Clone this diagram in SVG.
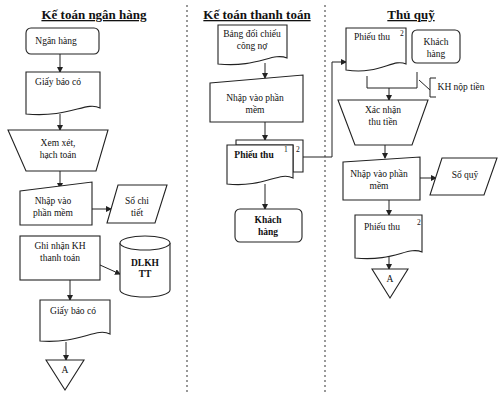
<svg xmlns="http://www.w3.org/2000/svg" width="499" height="395" viewBox="0 0 499 395">
<defs>
<marker id="ah" markerWidth="6" markerHeight="6" refX="5" refY="3" orient="auto" markerUnits="userSpaceOnUse">
<path d="M0,0 L6,3 L0,6 Z" fill="#222"/>
</marker>
<style>
.s{fill:#fff;stroke:#222;stroke-width:1.1}
.t{font-family:"Liberation Serif","DejaVu Serif",serif;font-size:9.5px;fill:#111;text-anchor:middle}
.h{font-family:"Liberation Serif","DejaVu Serif",serif;font-size:13px;font-weight:bold;fill:#111;text-anchor:middle;text-decoration:underline}
.c{fill:none;stroke:#222;stroke-width:1}
.a{fill:none;stroke:#222;stroke-width:1;marker-end:url(#ah)}
.d{fill:none;stroke:#555;stroke-width:1.2;stroke-dasharray:2,3}
.sup{font-family:"Liberation Serif","DejaVu Serif",serif;font-size:7.5px;fill:#111}
</style>
</defs>
<rect width="499" height="395" fill="#fff"/>
<g id="dividers">
<line class="d" x1="187" y1="5" x2="187" y2="395"/>
<line class="d" x1="325" y1="5" x2="325" y2="395"/>
</g>
<g id="titles">
<text class="h" x="94" y="19">Kế toán ngân hàng</text>
<text class="h" x="257" y="19">Kế toán thanh toán</text>
<text class="h" x="411" y="19">Thủ quỹ</text>
</g>
<g id="connectors">
<line class="a" x1="60" y1="54" x2="60" y2="72"/>
<line class="a" x1="60" y1="114" x2="60" y2="130"/>
<line class="a" x1="60" y1="171" x2="60" y2="188"/>
<line class="a" x1="92" y1="209" x2="111" y2="209"/>
<line class="a" x1="100" y1="265" x2="120" y2="274"/>
<line class="a" x1="70" y1="280" x2="70" y2="300"/>
<line class="a" x1="66" y1="342" x2="66" y2="360"/>
<line class="a" x1="265" y1="63" x2="265" y2="78"/>
<line class="a" x1="265" y1="122" x2="265" y2="140"/>
<line class="a" x1="265" y1="184" x2="265" y2="209"/>
<polyline class="a" points="303,157 332,157 332,62 346,62"/>
<polyline class="c" points="367,76 367,88 417,88 417,72"/>
<line class="a" x1="389" y1="88" x2="389" y2="100"/>
<line class="a" x1="385" y1="145" x2="385" y2="158"/>
<line class="a" x1="420" y1="178" x2="436" y2="178"/>
<line class="a" x1="389" y1="200" x2="389" y2="215"/>
<line class="a" x1="389" y1="257" x2="389" y2="269"/>
</g>
<g id="n_nganhang">
<rect class="s" x="26" y="28" width="73" height="26" rx="5"/>
<text class="t" x="56" y="44">Ngân hàng</text>
</g>
<g id="n_giaybaoco1">
<path class="s" d="M26,72 H100 V108 C86,101 70,118 26,114 Z"/>
<text class="t" x="58" y="85">Giấy báo có</text>
</g>
<g id="n_xemxet">
<path class="s" d="M8,130 H108 L96,171 H26 Z"/>
<text class="t" x="58" y="146">Xem xét,</text>
<text class="t" x="58" y="158">hạch toán</text>
</g>
<g id="n_nhap1">
<path class="s" d="M20,191 L92,182 V225 H20 Z"/>
<text class="t" x="53" y="204">Nhập vào</text>
<text class="t" x="53" y="216">phần mềm</text>
</g>
<g id="n_sochitiet">
<path class="s" d="M118,185 H167 L155,223 H107 Z"/>
<text class="t" x="137" y="204">Sổ chi</text>
<text class="t" x="137" y="216">tiết</text>
</g>
<g id="n_ghinhan">
<rect class="s" x="20" y="236" width="80" height="44"/>
<text class="t" x="60" y="249">Ghi nhận KH</text>
<text class="t" x="60" y="261">thanh toán</text>
</g>
<g id="n_dlkh">
<path class="s" d="M120,243 V290 A25,7 0 0 0 170,290 V243"/>
<ellipse class="s" cx="145" cy="243" rx="25" ry="7"/>
<text class="t" x="145" y="266" font-weight="bold">DLKH</text>
<text class="t" x="145" y="277" font-weight="bold">TT</text>
</g>
<g id="n_giaybaoco2">
<path class="s" d="M40,300 H110 V334 C96,327 80,344 40,341 Z"/>
<text class="t" x="73" y="314">Giấy báo có</text>
</g>
<g id="n_A1">
<path class="s" d="M46,360 H84 L65,390 Z"/>
<text class="t" x="65" y="373">A</text>
</g>
<g id="n_bangdoichieu">
<path class="s" d="M218,25 H287 V58 C272,52 258,68 218,64 Z"/>
<text class="t" x="252" y="37">Bảng đối chiếu</text>
<text class="t" x="252" y="49">công nợ</text>
</g>
<g id="n_nhap2">
<path class="s" d="M210,83 L303,75 V122 H210 Z"/>
<text class="t" x="255" y="101">Nhập vào phần</text>
<text class="t" x="255" y="113">mềm</text>
</g>
<g id="n_phieuthu12">
<path class="s" d="M236,140 H303 V172 H293 V145 H236 Z"/>
<path class="s" d="M227,145 H293 V178 C279,171 264,188 227,184 Z"/>
<text class="t" x="254" y="158" font-weight="bold">Phiếu thu</text>
<text class="sup" x="284" y="152">1</text>
<text class="sup" x="296" y="152">2</text>
</g>
<g id="n_khachhang1">
<rect class="s" x="235" y="209" width="67" height="33" rx="5"/>
<text class="t" x="268" y="223" font-weight="bold">Khách</text>
<text class="t" x="268" y="235" font-weight="bold">hàng</text>
</g>
<g id="n_phieuthu3a">
<path class="s" d="M346,28 H406 V64 C393,58 380,75 346,70 Z"/>
<text class="t" x="372" y="40">Phiếu thu</text>
<text class="sup" x="400" y="36">2</text>
</g>
<g id="n_khachhang2">
<rect class="s" x="412" y="30" width="48" height="33" rx="5"/>
<text class="t" x="436" y="45">Khách</text>
<text class="t" x="436" y="57">hàng</text>
</g>
<g id="n_khnoptien">
<path class="c" d="M436,78 H430 V97 H436"/>
<line class="c" x1="419" y1="80" x2="430" y2="90"/>
<text class="t" x="461" y="90">KH nộp tiền</text>
</g>
<g id="n_xacnhan">
<path class="s" d="M338,100 H428 L412,145 H355 Z"/>
<text class="t" x="383" y="113">Xác nhận</text>
<text class="t" x="383" y="125">thu tiền</text>
</g>
<g id="n_nhap3">
<path class="s" d="M343,162 L420,157 V200 H343 Z"/>
<text class="t" x="379" y="177">Nhập vào phần</text>
<text class="t" x="379" y="189">mềm</text>
</g>
<g id="n_soquy">
<path class="s" d="M442,158 H497 L484,195 H430 Z"/>
<text class="t" x="465" y="178" font-size="10.5">Sổ quỹ</text>
</g>
<g id="n_phieuthu3b">
<path class="s" d="M355,215 H422 V252 C408,246 394,262 355,258 Z"/>
<text class="t" x="382" y="230">Phiếu thu</text>
<text class="sup" x="417" y="225">2</text>
</g>
<g id="n_A2">
<path class="s" d="M372,269 H408 L390,298 Z"/>
<text class="t" x="390" y="282">A</text>
</g>
</svg>
